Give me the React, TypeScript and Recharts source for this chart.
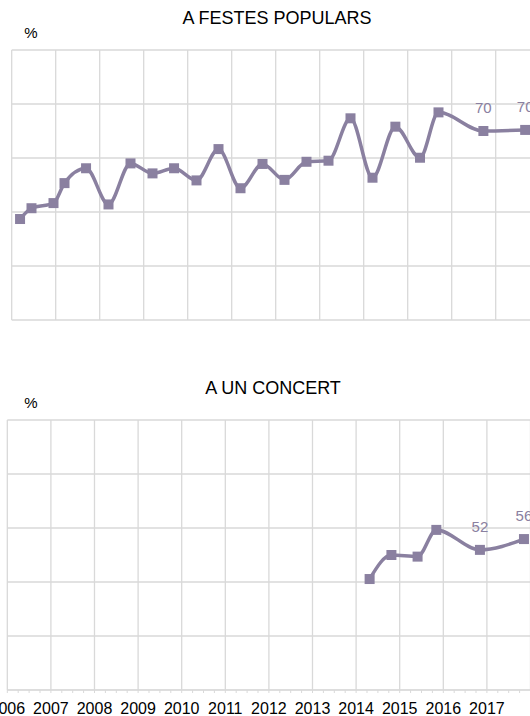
import { LineChart, Line, XAxis, YAxis, CartesianGrid, LabelList } from "recharts";

const LINE_COLOR = "#8a80a0";
const GRID_COLOR = "#d9d9d9";

const years = [2006, 2007, 2008, 2009, 2010, 2011, 2012, 2013, 2014, 2015, 2016, 2017, 2018];
const yTicks = [0, 20, 40, 60, 80, 100];

// A FESTES POPULARS
const festesX = [
  2006.19, 2006.45, 2006.95, 2007.2, 2007.69, 2008.2, 2008.7, 2009.2, 2009.69, 2010.2, 2010.7, 2011.2,
  2011.7, 2012.2, 2012.7, 2013.2, 2013.7, 2014.2, 2014.72, 2015.28, 2015.7, 2016.72, 2017.67,
];
const festesValues = [
  37.4, 41.4, 43.3, 50.7, 56.2, 42.8, 58.0, 54.3, 56.2, 51.7, 63.3, 48.8,
  57.8, 51.9, 58.6, 59.0, 74.7, 52.7, 71.6, 60.1, 76.9, 70.0, 70.4,
];
const festesLabels = [22, 23]; // numbered points carrying a label

// A UN CONCERT
const concertX = [2014.31, 2014.81, 2015.41, 2015.84, 2016.84, 2017.85];
const concertValues = [41.1, 50.0, 49.4, 59.3, 51.9, 55.9];
const concertLabels = [5, 6];

const quarterTicks = years.slice(0, -1).flatMap(y => [y, y + 0.25, y + 0.5, y + 0.75]);

function buildRows(xs: number[], values: number[], labelled: number[]) {
  return xs.map((x, i) => ({
    x,
    v: values[i],
    lab: labelled.includes(i + 1) ? Math.round(values[i]) : undefined,
  }));
}

const SquareDot = (props: any) => {
  const { cx, cy, index } = props;
  if (cx == null || cy == null) return <g key={index} />;
  return <rect key={index} x={cx - 5} y={cy - 5} width={10} height={10} fill={LINE_COLOR} />;
};

const fontFamily = "'Liberation Sans', Arial, sans-serif";

function Title({ text, top, left }: { text: string; top: number; left: number }) {
  return (
    <div
      style={{
        position: "absolute",
        top,
        left,
        transform: "translate(-50%, -50%)",
        fontSize: 18,
        whiteSpace: "nowrap",
        color: "#000",
      }}
    >
      {text}
    </div>
  );
}

function Percent({ top }: { top: number }) {
  return (
    <div style={{ position: "absolute", top, left: 31, transform: "translate(-50%, -50%)", fontSize: 15 }}>%</div>
  );
}

export default function App() {
  const festes = buildRows(festesX, festesValues, festesLabels);
  const concert = buildRows(concertX, concertValues, concertLabels);

  return (
    <div
      style={{
        position: "absolute",
        top: 0,
        left: 0,
        width: 530,
        height: 716,
        overflow: "hidden",
        background: "#fff",
        fontFamily,
      }}
    >
      <Title text="A FESTES POPULARS" top={18} left={277} />
      <Percent top={32} />
      <div style={{ position: "absolute", top: 0, left: 0 }}>
        <LineChart width={560} height={330} data={festes} margin={{ top: 50, left: 11.7, right: 20.3, bottom: 10 }}>
          <CartesianGrid stroke={GRID_COLOR} strokeWidth={1.3} verticalValues={years} horizontalValues={yTicks} />
          <XAxis type="number" dataKey="x" domain={[2006, 2018]} ticks={years} interval={0} hide />
          <YAxis type="number" domain={[0, 100]} ticks={yTicks} interval={0} hide />
          <Line
            type="monotone"
            dataKey="v"
            stroke={LINE_COLOR}
            strokeWidth={3.5}
            dot={SquareDot}
            activeDot={false}
            isAnimationActive={false}
          >
            <LabelList dataKey="lab" position="top" offset={18} fill={LINE_COLOR} fontSize={15} fontFamily={fontFamily} />
          </Line>
        </LineChart>
      </div>

      <Title text="A UN CONCERT" top={388} left={273} />
      <Percent top={402} />
      <div style={{ position: "absolute", top: 360, left: 0 }}>
        <LineChart width={560} height={356} data={concert} margin={{ top: 60, left: 7.3, right: 29.5, bottom: 0 }}>
          <CartesianGrid stroke={GRID_COLOR} strokeWidth={1.3} verticalValues={years} horizontalValues={yTicks} />
          <XAxis
            type="number"
            dataKey="x"
            domain={[2006, 2018]}
            ticks={quarterTicks}
            interval={0}
            height={26}
            tickSize={3}
            tickMargin={10}
            tickFormatter={(v: number) => (Number.isInteger(v) ? String(v) : "")}
            tick={{ fill: "#000", fontSize: 16, fontFamily }}
            tickLine={{ stroke: GRID_COLOR }}
            axisLine={{ stroke: GRID_COLOR }}
          />
          <YAxis type="number" domain={[0, 100]} ticks={yTicks} interval={0} hide />
          <Line
            type="monotone"
            dataKey="v"
            stroke={LINE_COLOR}
            strokeWidth={3.5}
            dot={SquareDot}
            activeDot={false}
            isAnimationActive={false}
          >
            <LabelList dataKey="lab" position="top" offset={18} fill={LINE_COLOR} fontSize={15} fontFamily={fontFamily} />
          </Line>
        </LineChart>
      </div>
    </div>
  );
}
